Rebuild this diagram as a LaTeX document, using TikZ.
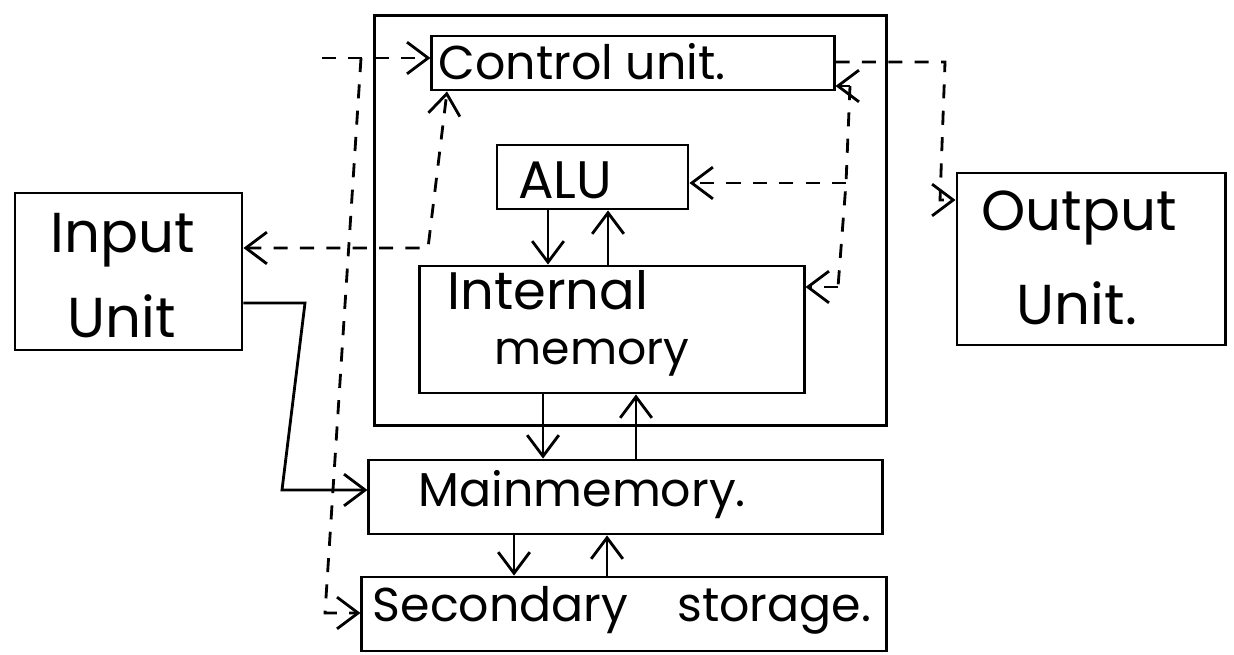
\documentclass[tikz,border=0pt]{standalone}
\usepackage{fontspec}
\setmainfont{Poppins}
\usetikzlibrary{arrows.meta}
\begin{document}
\begin{tikzpicture}[x=0.01cm,y=-0.01cm,
  box/.style={draw,line width=0.8pt,inner sep=0pt},
  conn/.style={line width=0.8pt},
  dsh/.style={line width=0.8pt,dash pattern=on 4pt off 3.5pt},
  tip/.style={-{Straight Barb[length=6pt,width=9pt]}},
  tips/.style={{Straight Barb[length=6pt,width=9pt]}-{Straight Barb[length=6pt,width=9pt]}},
  txt/.style={inner sep=0pt,font=\fontsize{13.5}{16}\selectfont},
  midtxt/.style={inner sep=0pt,font=\fontsize{15}{18}\selectfont},
  bigtxt/.style={inner sep=0pt,font=\fontsize{16}{19}\selectfont}]
\useasboundingbox[fill=white] (0,0) rectangle (1234,655);

% boxes
\node[box,minimum width=5.11cm,minimum height=4.09cm] (cpu) at (630.5,220.5) {};
\node[box,minimum width=4.02cm,minimum height=0.54cm] (cu) at (633,63) {};
\node[box,minimum width=1.91cm,minimum height=0.64cm] (alu) at (592.5,177) {};
\node[box,minimum width=3.84cm,minimum height=1.27cm] (im) at (612,329.5) {};
\node[box,minimum width=5.13cm,minimum height=0.74cm] (mm) at (625.5,497) {};
\node[box,minimum width=5.24cm,minimum height=0.74cm] (ss) at (624,614) {};
\node[box,minimum width=2.27cm,minimum height=1.57cm] (in) at (128.5,271.5) {};
\node[box,minimum width=2.68cm,minimum height=1.72cm] (out) at (1091,259) {};

% texts
\node[txt,anchor=west] (tcu) at (438,62) {Control unit.};
\node[midtxt] (talu) at (565,180) {ALU};
\node[midtxt] (tim1) at (548,290) {Internal};
\node[inner sep=0pt,font=\fontsize{13}{16}\selectfont] (tim2) at (592,358) {memory};
\node[txt,anchor=west] (tmm) at (418,495) {Mainmemory.};
\node[txt,anchor=west] (tss) at (372,610) {Secondary\hspace{14pt}storage.};
\node[bigtxt] (tin1) at (123,240) {Input};
\node[bigtxt] (tin2) at (122,316) {Unit};
\node[bigtxt] (tout1) at (1079,218) {Output};
\node[bigtxt] (tout2) at (1077,303) {Unit.};

% helper coordinates
\coordinate (t0) at (322,58);
\coordinate (tj) at (361,58);
\coordinate (tb) at (325,613);
\coordinate (b1) at (428,248);
\coordinate (b2) at (447,200);
\coordinate (ia) at (305,303);
\coordinate (ib) at (282,490);
\coordinate (r1) at (850,86);
\coordinate (r2) at (846,183);
\coordinate (r3) at (838,287);
\coordinate (o1) at (945,62);
\coordinate (o2) at (940,200);
\coordinate (x1) at (548,0);
\coordinate (x2) at (608,0);
\coordinate (x3) at (543,0);
\coordinate (x4) at (636,0);
\coordinate (x5) at (514,0);
\coordinate (x6) at (607,0);

% dashed control lines
\draw[dsh,tip] (t0) -- (cu.west |- t0);
\draw[dsh,tip] (tj) -- (tb) -- (ss.west |- tb);
\draw[dsh,tips] (in.east |- b1) -- (b1) -- (b2 |- cu.south);
\draw[dsh,tip] (r1) -- (cu.east |- r1);
\draw[dsh] (r1) -- (r2) -- (r3);
\draw[dsh,tip] (r2) -- (alu.east |- r2);
\draw[dsh,tip] (r3) -- (im.east |- r3);
\draw[dsh,tip] (cu.east |- o1) -- (o1) -- (o2) -- (out.west |- o2);

% solid data lines
\draw[conn,tip] (in.east |- ia) -- (ia) -- (ib) -- (mm.west |- ib);
\draw[conn,tip] (alu.south -| x1) -- (im.north -| x1);
\draw[conn,tip] (im.north -| x2) -- (alu.south -| x2);
\draw[conn,tip] (im.south -| x3) -- (mm.north -| x3);
\draw[conn,tip] (mm.north -| x4) -- (im.south -| x4);
\draw[conn,tip] (mm.south -| x5) -- (ss.north -| x5);
\draw[conn,tip] (ss.north -| x6) -- (mm.south -| x6);
\end{tikzpicture}
\end{document}
